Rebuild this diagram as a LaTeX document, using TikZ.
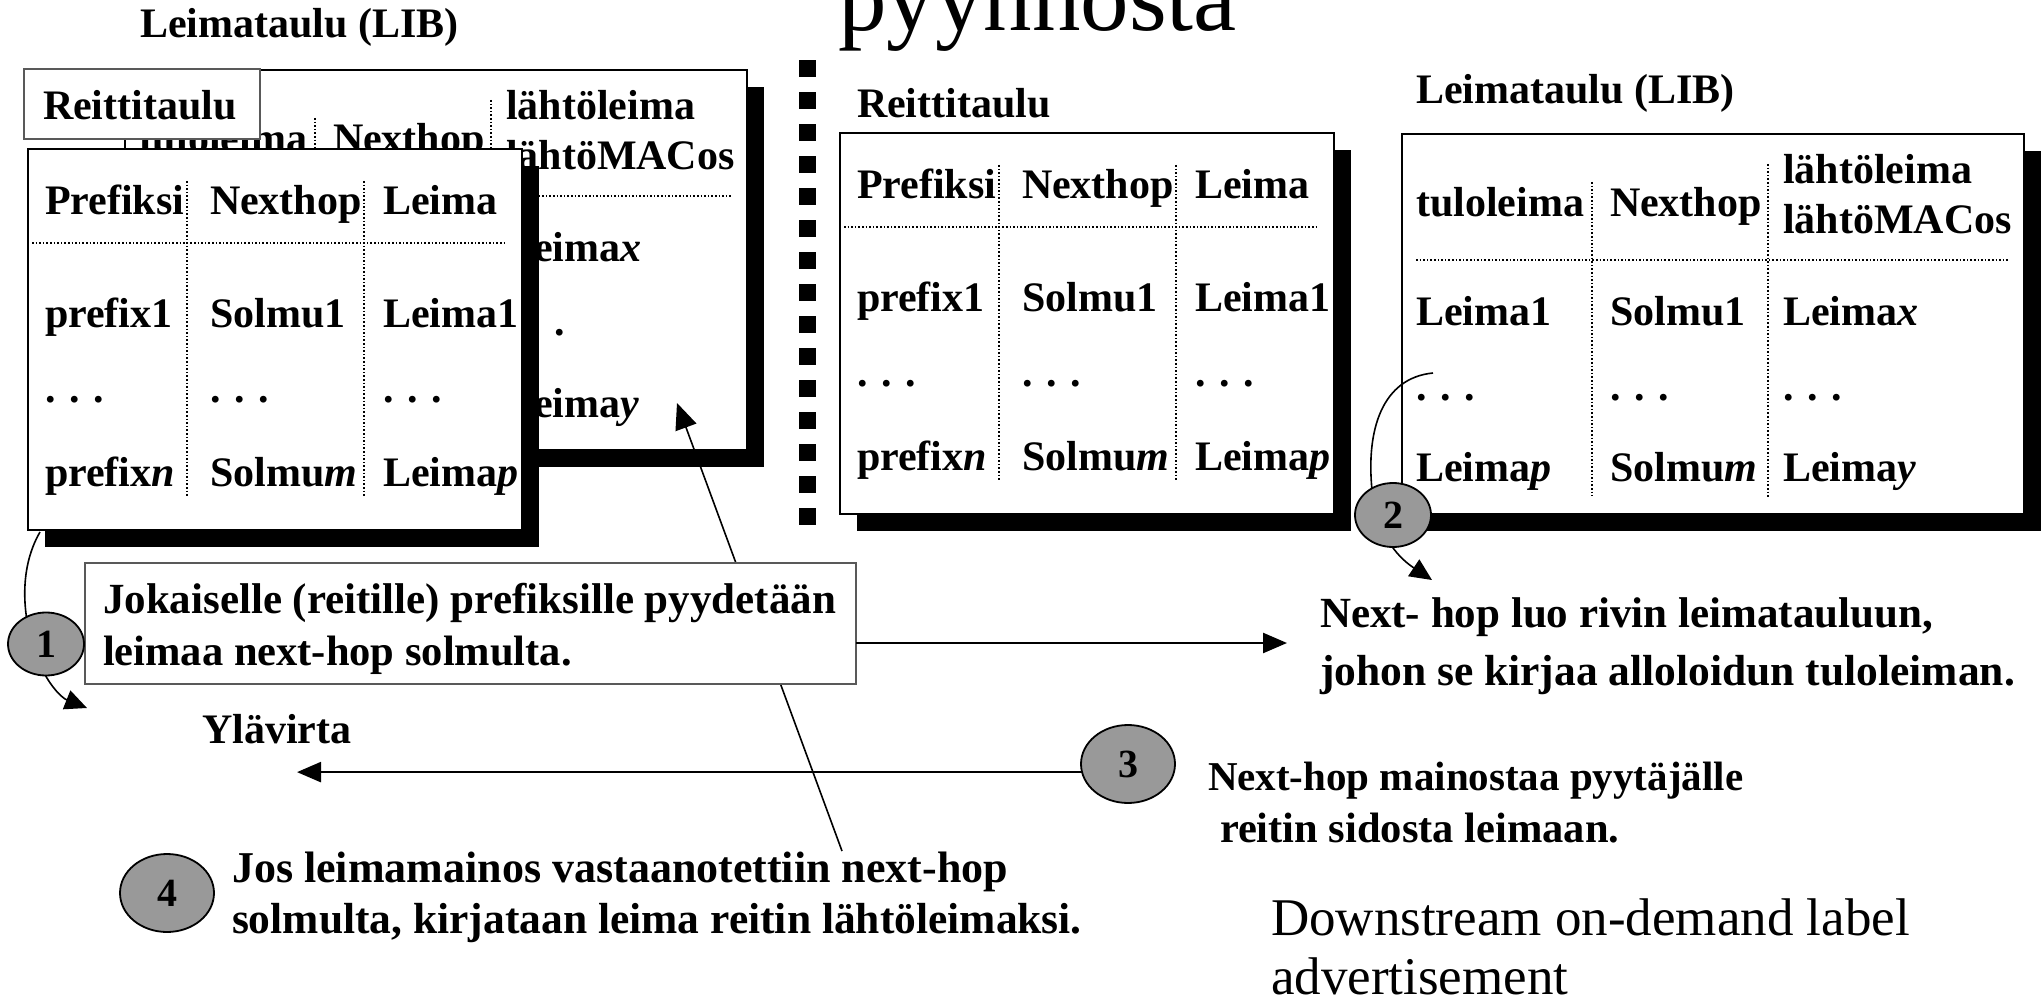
\documentclass[tikz,border=0pt]{standalone}
\usepackage{fontspec}
\setmainfont{Liberation Serif}
\usetikzlibrary{arrows.meta,shapes.geometric}

% Routing table: #1 name, #2/#3 top-left corner
\newcommand\routetable[3]{%
  \begin{scope}[shift={(#2,#3)}]
    \fill[black] (17,17) rectangle (511,398);
    \node[panel, minimum width=494pt, minimum height=381pt] (#1) at (0,0) {};
    \draw[dotl] (159,32) -- (159,347);
    \draw[dotl] (336,32) -- (336,347);
    \draw[dotl] (4,94) -- (478,94);
    \node[txt] (#1-h1) at (17,66) {Prefiksi};
    \node[txt] (#1-h2) at (182,66) {Nexthop};
    \node[txt] (#1-h3) at (355,66) {Leima};
    \node[txt] (#1-a1) at (17,179) {prefix1};
    \node[txt] (#1-a2) at (182,179) {Solmu1};
    \node[txt] (#1-a3) at (355,179) {Leima1};
    \node[txt] (#1-b1) at (17,253) {. . .};
    \node[txt] (#1-b2) at (182,253) {. . .};
    \node[txt] (#1-b3) at (355,253) {. . .};
    \node[txt] (#1-c1) at (17,337) {prefix\textit{n}};
    \node[txt] (#1-c2) at (182,337) {Solmu\textit{m}};
    \node[txt] (#1-c3) at (355,337) {Leima\textit{p}};
  \end{scope}}

% Label information base: #1 name, #2/#3 top-left corner
\newcommand\labeltable[3]{%
  \begin{scope}[shift={(#2,#3)}]
    \fill[black] (17,17) rectangle (639,397);
    \node[panel, minimum width=622pt, minimum height=380pt] (#1) at (0,0) {};
    \draw[dotl] (190,48) -- (190,362);
    \draw[dotl] (366,30) -- (366,364);
    \draw[dotl] (14,126) -- (606,126);
    \node[txt] (#1-h1) at (14,83) {tuloleima};
    \node[txt] (#1-h2) at (208,83) {Nexthop};
    \node[txt] (#1-h3) at (381,50) {lähtöleima};
    \node[txt] (#1-h4) at (381,100) {lähtöMACos};
    \node[txt] (#1-a1) at (14,192) {Leima1};
    \node[txt] (#1-a2) at (208,192) {Solmu1};
    \node[txt] (#1-a3) at (381,192) {Leima\textit{x}};
    \node[txt] (#1-b1) at (14,266) {. . .};
    \node[txt] (#1-b2) at (208,266) {. . .};
    \node[txt] (#1-b3) at (381,266) {. . .};
    \node[txt] (#1-c1) at (14,347) {Leima\textit{p}};
    \node[txt] (#1-c2) at (208,347) {Solmu\textit{m}};
    \node[txt] (#1-c3) at (381,347) {Leima\textit{y}};
  \end{scope}}

\begin{document}
\begin{tikzpicture}[x=1pt,y=-1pt,
  every node/.style={inner sep=0pt, outer sep=0pt},
  bfs/.style={font=\fontsize{42}{52}\selectfont\bfseries},
  txt/.style={bfs, anchor=base west},
  note/.style={anchor=base west, font=\fontsize{#1}{52}\selectfont\bfseries},
  panel/.style={draw=black, line width=1.5pt, fill=white, anchor=north west},
  tagbox/.style={draw=black!65, line width=1.5pt, fill=white, anchor=north west},
  dotl/.style={dotted, line width=1.6pt},
  num/.style={ellipse, draw=black, line width=1.8pt, fill=black!40,
              font=\fontsize{40}{40}\selectfont\bfseries},
  arr/.style={line width=2.5pt, -{Triangle[length=24pt,width=20pt]}},
  curv/.style={line width=1.6pt, -{Triangle[length=22pt,width=20pt]}},
  slim/.style={line width=1.6pt, -{Triangle[length=26pt,width=22pt]}},
]
\useasboundingbox (0,0) rectangle (2043,1000);
\clip (0,0) rectangle (2043,1000);
\fill[white] (0,0) rectangle (2043,1000);

% left side: label table behind the routing table
\node[txt] (lib1-title) at (140,38) {Leimataulu (LIB)};
\labeltable{lib1}{125}{70}
\node[tagbox, minimum width=236pt, minimum height=70pt] (rt1-tag) at (24,69) {};
\node[txt] (rt1-tagtext) at (43,120) {Reittitaulu};
\routetable{rt1}{28}{149}

% right side: routing table and label table side by side
\node[txt] (rt2-title) at (857,118) {Reittitaulu};
\routetable{rt2}{840}{133}
\node[txt] (lib2-title) at (1416,104) {Leimataulu (LIB)};
\labeltable{lib2}{1402}{134}

% separator
\foreach \k in {0,...,14} \fill (799,60+32*\k) rectangle ++(17,17);

% heading, partly above the page
\node[anchor=base west, font=\fontsize{97}{97}\selectfont] (head) at (838,31) {pyynnöstä};

% step 4: label advertisement written into the table
\coordinate (a4s) at (842,851);
\coordinate (a4tip) at (677,403);
\draw[slim] (a4s) -- (a4tip);

% step 1: request box
\node[tagbox, minimum width=771pt, minimum height=121pt] (s1) at (85,563) {};
\node[note=43] (s1a) at (103,613) {Jokaiselle (reitille) prefiksille pyydetään};
\node[note=42.5] (s1b) at (103,665) {leimaa next-hop solmulta.};
\coordinate (a1tip) at (1287,643);
\draw[arr] (s1.east |- a1tip) -- (a1tip);

% curved arrows through the numbered markers
\coordinate (c1s) at (40,532);
\coordinate (c1tip) at (87,708);
\draw[curv] (c1s) .. controls (18,570) and (22,620) .. (38,660)
  .. controls (48,685) and (62,698) .. (c1tip);
\coordinate (c2s) at (1433,373);
\coordinate (c2tip) at (1432,580);
\draw[curv] (c2s) .. controls (1382,378) and (1366,430) .. (1372,490)
  .. controls (1378,540) and (1402,560) .. (c2tip);

\node[num, minimum width=76pt, minimum height=63pt] (c1) at (46,644) {1};
\node[num, minimum width=76pt, minimum height=64pt] (c2) at (1393,515) {2};
\node[num, minimum width=94pt, minimum height=78pt] (c3) at (1128,764) {3};
\node[num, minimum width=94pt, minimum height=78pt] (c4) at (167,893) {4};

% step 3: advertisement back upstream
\coordinate (a3tip) at (297,772);
\draw[arr] (c3.190) -- (c3.190 -| a3tip);

% explanations
\node[note=43] (t2a) at (1320,627) {Next- hop luo rivin leimatauluun,};
\node[note=43.5] (t2b) at (1320,685) {johon se kirjaa alloloidun tuloleiman.};
\node[note=42] (up) at (202,743) {Ylävirta};
\node[note=41] (t3a) at (1208,790) {Next-hop mainostaa pyytäjälle};
\node[note=42.5] (t3b) at (1220,842) {reitin sidosta leimaan.};
\node[note=44] (t4a) at (232,882) {Jos leimamainos vastaanotettiin next-hop};
\node[note=43.5] (t4b) at (232,933) {solmulta, kirjataan leima reitin lähtöleimaksi.};
\node[anchor=base west, font=\fontsize{53}{63}\selectfont] (ds1) at (1271,935) {Downstream on-demand label};
\node[anchor=base west, font=\fontsize{53}{63}\selectfont] (ds2) at (1271,994) {advertisement};
\end{tikzpicture}
\end{document}
